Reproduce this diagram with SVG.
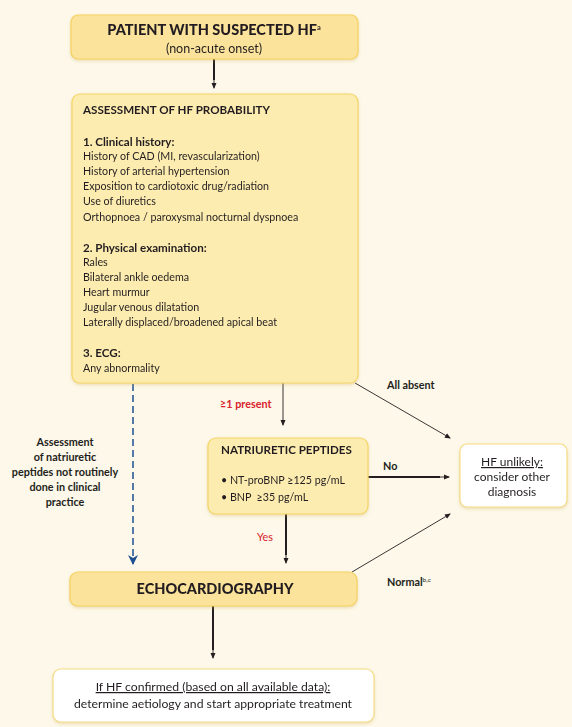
<svg xmlns="http://www.w3.org/2000/svg" width="572" height="727" viewBox="0 0 572 727">
<style>
text{font-family:Lato,"Open Sans","Liberation Sans",sans-serif;fill:#231f20}
.b{font-size:10.7px}
.h{font-size:11.6px;font-weight:700}
.t{font-size:14.5px;font-weight:900}
.red{fill:#d9232e;font-size:10.8px;font-weight:700}
.lab{font-size:10.8px;font-weight:700}
.w{font-size:12px}
.ybox{fill:#fdecb0;stroke:#f6d567;stroke-width:1.2}
.obox{fill:#fce39b;stroke:#f6d160;stroke-width:1.2}
.wbox{fill:#ffffff;stroke:#f6dc86;stroke-width:1.2}
.thick{stroke:#231f20;stroke-width:2;fill:none}
.thin{stroke:#231f20;stroke-width:0.9;fill:none}
</style>
<defs>
<marker id="ah" markerWidth="6" markerHeight="6" refX="5" refY="3" orient="auto" markerUnits="userSpaceOnUse"><path d="M0,0.5 L6,3 L0,5.5 Z" fill="#231f20"/></marker>
<marker id="bh" markerWidth="10" markerHeight="10" refX="9" refY="5" orient="auto" markerUnits="userSpaceOnUse"><path d="M0,0 L10,5 L0,10 L3,5 Z" fill="#1d4f91"/></marker>
<filter id="sh" x="-10%" y="-10%" width="120%" height="130%"><feDropShadow dx="0" dy="1.5" stdDeviation="1.5" flood-color="#c9a94a" flood-opacity="0.35"/></filter>
</defs>
<rect width="572" height="727" fill="#fdf8e9"/>

<g id="connectors">
<path class="thick" d="M214,59 V80"/><path class="thin" d="M214,80 V88" marker-end="url(#ah)"/>
<path class="thin" d="M283,383 V425" marker-end="url(#ah)"/>
<path class="thin" d="M355,383 L450,438" marker-end="url(#ah)"/>
<path class="thick" d="M368,477 H440"/><path class="thin" d="M440,477 H449" marker-end="url(#ah)"/>
<path class="thick" d="M286,514 V555"/><path class="thin" d="M286,555 V563" marker-end="url(#ah)"/>
<path class="thin" d="M352,572 L450,514" marker-end="url(#ah)"/>
<path class="thick" d="M213,606 V650"/><path class="thin" d="M213,650 V658" marker-end="url(#ah)"/>
<path d="M133,384 V564" stroke="#1d4f91" stroke-width="1.5" stroke-dasharray="7,4" fill="none" marker-end="url(#bh)"/>
<text class="red" x="220" y="408">≥1 present</text>
<text class="lab" x="387" y="389">All absent</text>
<text class="lab" x="383" y="470">No</text>
<text class="red" x="257" y="541" style="font-weight:400">Yes</text>
<text class="lab" x="387" y="586">Normal<tspan font-size="6.5" font-weight="400" dy="-4">b,c</tspan></text>
<g text-anchor="middle">
<text class="lab" x="65" y="446">Assessment</text>
<text class="lab" x="65" y="461">of natriuretic</text>
<text class="lab" x="65" y="476">peptides not routinely</text>
<text class="lab" x="65" y="491">done in clinical</text>
<text class="lab" x="65" y="506">practice</text>
</g>
</g>

<g id="patient" filter="url(#sh)">
<rect class="obox" x="71" y="15" width="287" height="44" rx="7"/>
<text class="t" x="214" y="35" text-anchor="middle">PATIENT WITH SUSPECTED HF<tspan font-size="7.5" font-weight="700" dy="-5">a</tspan></text>
<text x="214" y="53" text-anchor="middle" font-size="12.5">(non-acute onset)</text>
</g>

<g id="assessment" filter="url(#sh)">
<rect class="ybox" x="72" y="94" width="286" height="289" rx="8"/>
<text class="h" x="83" y="114">ASSESSMENT OF HF PROBABILITY</text>
<text class="h" x="83" y="146">1. Clinical history:</text>
<text class="b" x="83" y="160">History of CAD (MI, revascularization)</text>
<text class="b" x="83" y="175">History of arterial hypertension</text>
<text class="b" x="83" y="190">Exposition to cardiotoxic drug/radiation</text>
<text class="b" x="83" y="205">Use of diuretics</text>
<text class="b" x="83" y="221">Orthopnoea / paroxysmal nocturnal dyspnoea</text>
<text class="h" x="83" y="252">2. Physical examination:</text>
<text class="b" x="83" y="266">Rales</text>
<text class="b" x="83" y="281">Bilateral ankle oedema</text>
<text class="b" x="83" y="296">Heart murmur</text>
<text class="b" x="83" y="311">Jugular venous dilatation</text>
<text class="b" x="83" y="326">Laterally displaced/broadened apical beat</text>
<text class="h" x="83" y="357">3. ECG:</text>
<text class="b" x="83" y="372">Any abnormality</text>
</g>

<g id="natriuretic" filter="url(#sh)">
<rect class="ybox" x="208" y="438" width="160" height="76" rx="8"/>
<text class="h" x="221" y="454">NATRIURETIC PEPTIDES</text>
<text class="b" x="221" y="484">• NT-proBNP ≥125 pg/mL</text>
<text class="b" x="221" y="501">• BNP &#160;≥35 pg/mL</text>
</g>

<g id="hf-unlikely" filter="url(#sh)">
<rect class="wbox" x="460" y="444" width="107" height="63" rx="7"/>
<text class="w" x="512" y="466" text-anchor="middle" text-decoration="underline">HF unlikely:</text>
<text class="w" x="512" y="481" text-anchor="middle">consider other</text>
<text class="w" x="512" y="496" text-anchor="middle">diagnosis</text>
</g>

<g id="echo" filter="url(#sh)">
<rect class="obox" x="70" y="572" width="287" height="34" rx="8"/>
<text class="t" x="215" y="594" text-anchor="middle" font-size="14">ECHOCARDIOGRAPHY</text>
</g>

<g id="confirmed" filter="url(#sh)">
<rect class="wbox" x="53" y="669" width="321" height="53" rx="8"/>
<text x="213" y="691" text-anchor="middle" font-size="12.2" text-decoration="underline">If HF confirmed (based on all available data):</text>
<text x="213" y="708" text-anchor="middle" font-size="12.2">determine aetiology and start appropriate treatment</text>
</g>
</svg>
